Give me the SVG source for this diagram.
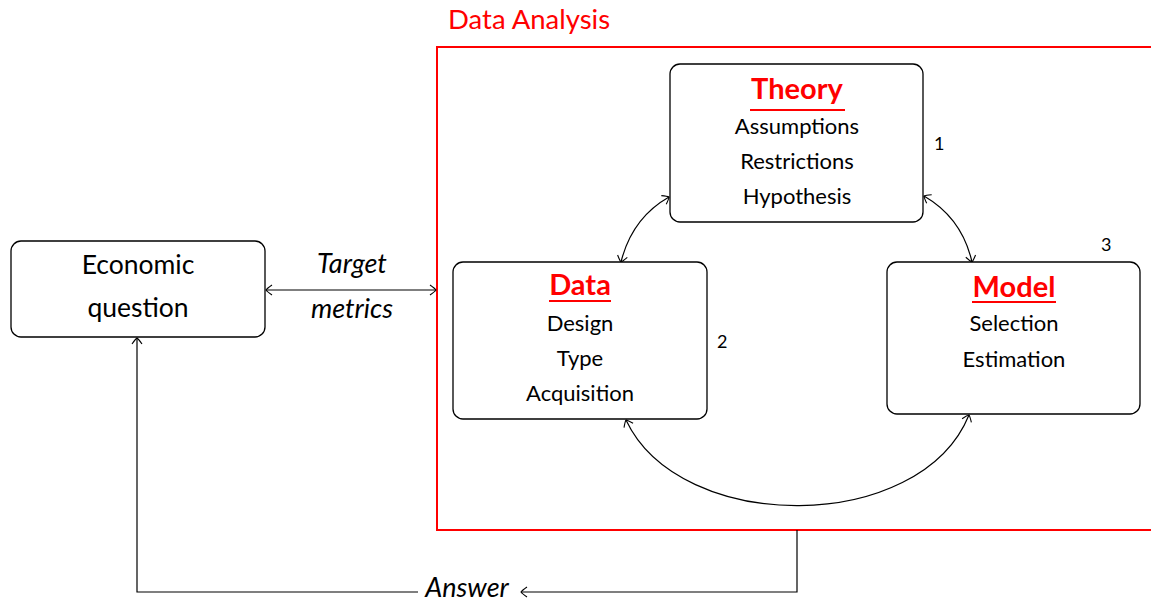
<svg xmlns="http://www.w3.org/2000/svg" width="1151" height="602" viewBox="0 0 1151 602">
<defs>
<style>
.box{fill:#fff;stroke:#000;stroke-width:1.3}
.t{font-family:Lato,"Open Sans",sans-serif;font-size:22px;fill:#000;text-anchor:middle}
.big{font-size:26.5px}
.title{font-family:Lato,"Open Sans",sans-serif;font-size:29px;font-weight:bold;fill:#f00;text-anchor:middle}
.ul{stroke:#f00;stroke-width:2}
.conn{fill:none;stroke:#000;stroke-width:1.2}
.it{font-style:italic;font-size:27px}
.num{font-family:Lato,"Open Sans",sans-serif;font-size:18px;fill:#000}
</style>
<marker id="ah" viewBox="-8 -6 10 12" markerWidth="10" markerHeight="12" refX="0" refY="0" orient="auto-start-reverse" markerUnits="userSpaceOnUse">
<path d="M -6,-5 Q -1,-1.5 0,0 Q -1,1.5 -6,5" fill="none" stroke="#000" stroke-width="1.1"/>
</marker>
</defs>
<rect width="1151" height="602" fill="#fff"/>
<g id="data-analysis">
<rect x="437" y="47" width="720" height="483" fill="none" stroke="#f00" stroke-width="2"/>
<text x="448" y="29" font-family="Lato,'Open Sans',sans-serif" font-size="27.5" fill="#f00">Data Analysis</text>
</g>
<g id="connectors">
<path class="conn" d="M 266,290 H 436" marker-start="url(#ah)" marker-end="url(#ah)"/>
<path class="conn" d="M 669,197 Q 632,218 621,262" marker-start="url(#ah)" marker-end="url(#ah)"/>
<path class="conn" d="M 924,196 Q 962,218 972,262" marker-start="url(#ah)" marker-end="url(#ah)"/>
<path class="conn" d="M 626,420 C 680,535 920,535 969,415" marker-start="url(#ah)" marker-end="url(#ah)"/>
<path class="conn" d="M 797,530 V 592 H 521" marker-end="url(#ah)"/>
<path class="conn" d="M 418,592 H 137 V 338" marker-end="url(#ah)"/>
<text class="t it" x="352" y="273">Target</text>
<text class="t it" x="352" y="318">metrics</text>
<text class="t it" x="467" y="597">Answer</text>
</g>
<g id="economic-question">
<rect class="box" x="11" y="241" width="254" height="96" rx="10"/>
<text class="t big" x="138" y="274">Economic</text>
<text class="t big" x="138" y="317">question</text>
</g>
<g id="theory">
<rect class="box" x="670" y="64" width="253" height="158" rx="10"/>
<text class="title" x="797" y="99">Theory</text>
<line class="ul" x1="750" y1="110" x2="845" y2="110"/>
<text class="t" x="797" y="134">Assumptions</text>
<text class="t" x="797" y="169">Restrictions</text>
<text class="t" x="797" y="204">Hypothesis</text>
<text class="num" x="934" y="150">1</text>
</g>
<g id="data">
<rect class="box" x="453" y="262" width="254" height="157" rx="10"/>
<text class="title" x="580" y="295">Data</text>
<line class="ul" x1="549" y1="301" x2="611" y2="301"/>
<text class="t" x="580" y="331">Design</text>
<text class="t" x="580" y="366">Type</text>
<text class="t" x="580" y="401">Acquisition</text>
<text class="num" x="717" y="348">2</text>
</g>
<g id="model">
<rect class="box" x="887" y="262" width="253" height="152" rx="10"/>
<text class="title" x="1014" y="297">Model</text>
<line class="ul" x1="972" y1="302" x2="1056" y2="302"/>
<text class="t" x="1014" y="331">Selection</text>
<text class="t" x="1014" y="367">Estimation</text>
<text class="num" x="1101" y="251">3</text>
</g>
</svg>
